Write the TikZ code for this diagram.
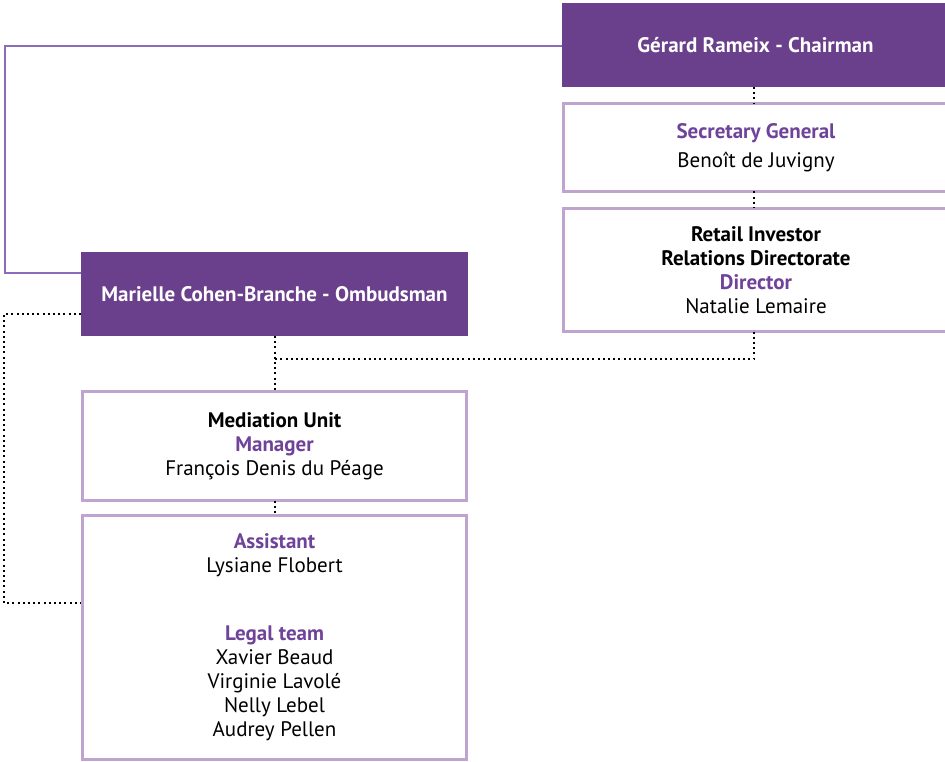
\documentclass[tikz,border=0pt]{standalone}
\usepackage{fontspec}
\setmainfont{PT Sans}
\usetikzlibrary{calc}
\definecolor{darkpurple}{HTML}{6A3F8C}
\definecolor{lavender}{HTML}{C0A4D0}
\definecolor{titlepurple}{HTML}{70439A}
\definecolor{thinpurple}{HTML}{8C6CB8}
\newcommand{\ttl}[1]{\textcolor{titlepurple}{\textbf{#1}}}
\begin{document}
\begin{tikzpicture}[x=1pt,y=-1pt,
  every node/.style={font=\fontsize{21}{24}\selectfont, inner sep=0pt, outer sep=0pt, align=center},
  headbox/.style={fill=darkpurple, text=white, anchor=north west, font=\fontsize{21}{24}\selectfont\bfseries},
  unitbox/.style={draw=lavender, line width=3pt, fill=white, anchor=north west},
  dots/.style={line width=2pt, dash pattern=on 2pt off 3.2pt},
  tie/.style={draw=thinpurple, line width=1.2pt}]
\useasboundingbox (0,0) rectangle (945,762);
\begin{scope}
\clip (0,0) rectangle (945,762);
% boxes
\node[headbox, minimum width=387pt, minimum height=84pt] (chair) at (562,3) {Gérard Rameix - Chairman};
\node[unitbox, minimum width=385pt, minimum height=88pt] (sec) at (563.5,103.5) {\ttl{Secretary General}\\[5pt]Benoît de Juvigny};
\node[unitbox, minimum width=385pt, minimum height=123pt] (ret) at (563.5,208.5) {\textbf{Retail Investor}\\\textbf{Relations Directorate}\\\ttl{Director}\\Natalie Lemaire};
\node[headbox, minimum width=387pt, minimum height=84pt] (omb) at (81,252) {Marielle Cohen-Branche - Ombudsman};
\node[unitbox, minimum width=384pt, minimum height=109pt] (med) at (82.5,391.5) {\textbf{Mediation Unit}\\\ttl{Manager}\\François Denis du Péage};
\node[unitbox, minimum width=384pt, minimum height=244pt] (asst) at (82.5,515.5) {\ttl{Assistant}\\Lysiane Flobert\\[44pt]\ttl{Legal team}\\Xavier Beaud\\Virginie Lavolé\\Nelly Lebel\\Audrey Pellen};
% connectors
\coordinate (j) at (275,359);
\coordinate (chairjoin) at (754,0);
\draw[tie] (chair.west |- 0,46) -- (5,46) |- ($(omb.north west)+(0,21)$);
\draw[dots] (chair.south -| chairjoin) -- (sec.north -| chairjoin);
\draw[dots] (sec.south -| chairjoin) -- (ret.north -| chairjoin);
\draw[dots] (ret.south -| chairjoin) |- (j);
\draw[dots] (omb.south -| j) -- (med.north -| j);
\draw[dots] (med.south -| j) -- (asst.north -| j);
\draw[dots] ($(omb.south west)+(0,-22)$) -- (4,314) |- ($(asst.north west)+(-1.5,87.5)$);
\end{scope}
\end{tikzpicture}
\end{document}
